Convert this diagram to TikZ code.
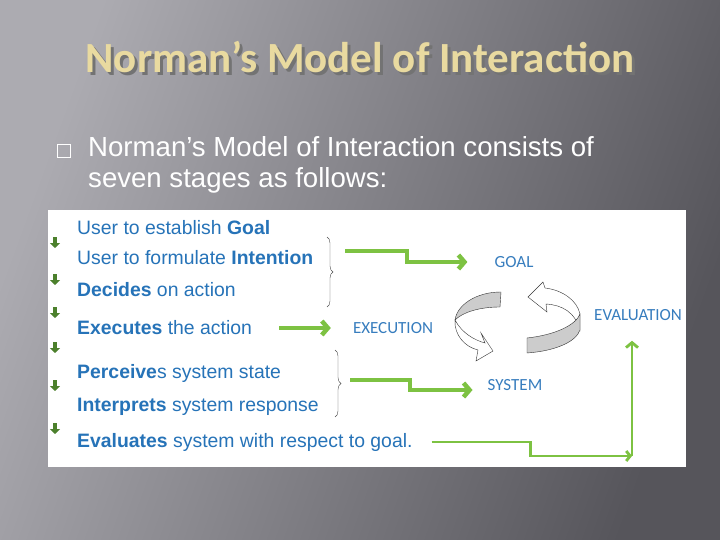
\documentclass[tikz,border=0pt]{standalone}
\usepackage{fontspec}
\setmainfont{Liberation Sans}
\newfontfamily\headfont{Carlito}
\newfontfamily\symbfont{DejaVu Sans}
\usetikzlibrary{arrows.meta,decorations.pathreplacing}

\definecolor{slidelight}{RGB}{172,171,177}
\definecolor{slidedark}{RGB}{86,85,91}
\definecolor{titletan}{RGB}{233,218,160}
\definecolor{stageblue}{RGB}{38,115,184}
\definecolor{phaseblue}{RGB}{55,125,190}
\definecolor{flowgreen}{RGB}{125,194,66}
\definecolor{stepgreen}{RGB}{76,128,44}

\tikzstyle{heading}=[anchor=base,inner sep=0pt,font=\headfont\bfseries\fontsize{43}{48}\selectfont]
\tikzstyle{bodytext}=[anchor=base west,inner sep=0pt,text=white,font=\fontsize{27.6}{32}\selectfont]
\tikzstyle{stage}=[anchor=west,inner sep=0pt,text=stageblue,font=\fontsize{19.4}{22}\selectfont]
\tikzstyle{phase}=[inner sep=0pt,text=phaseblue,font=\headfont\fontsize{17}{20}\selectfont]
\tikzstyle{flow}=[draw=flowgreen,line width=4.5pt,-{Straight Barb[length=6pt,width=14pt]}]
\tikzstyle{thinflow}=[draw=flowgreen,line width=2.8pt]
\tikzstyle{stepdown}=[draw=stepgreen,line width=3.5pt,-{Triangle[length=5pt,width=10pt]}]
\tikzstyle{bracket}=[draw=black!70,thin,decorate,decoration={brace,amplitude=6pt}]
\tikzstyle{bandback}=[draw=black!80,fill=black!20,thin]
\tikzstyle{bandfront}=[draw=black!80,fill=white,thin]

\begin{document}
\begin{tikzpicture}[x=1pt,y=-1pt]
\useasboundingbox (0,0) rectangle (720,540);
\shade[top color=slidelight,bottom color=slidedark,shading angle=70] (0,0) rectangle (720,540);

% title and bullet
\node[heading,text=black!55] (titleshadow) at (363,76) {Norman’s Model of Interaction};
\node[heading,text=titletan] (title) at (360,73) {Norman’s Model of Interaction};
\draw[white,thick] (57,144) rectangle (70,157);
\node[bodytext] (line1) at (88,157) {Norman’s Model of Interaction consists of};
\node[bodytext] (line2) at (88,188) {seven stages as follows:};

% white panel
\fill[white] (48,210) rectangle (686,467);

% seven stages
\node[stage] (goalstage)  at (77,228) {User to establish \textbf{Goal}};
\node[stage] (intention)  at (77,258) {User to formulate \textbf{Intention}};
\node[stage] (decides)    at (77,290) {\textbf{Decides} on action};
\node[stage] (executes)   at (77,328) {\textbf{Executes} the action};
\node[stage] (perceives)  at (77,373) {\textbf{Perceive}s system state};
\node[stage] (interprets) at (77,407) {\textbf{Interprets} system response};
\node[stage] (evaluates)  at (77,442) {\textbf{Evaluates} system with respect to goal.};

\foreach \y in {237,274,307,342,380,423}
  \draw[stepdown] (55,\y) -- ++(0,11);

% phases
\node[phase] (goal)       at (514,262) {GOAL};
\node[phase] (execution)  at (393,328) {EXECUTION};
\node[phase] (evaluation) at (638,315) {EVALUATION};
\node[phase] (system)     at (515,385) {SYSTEM};

% braces and green arrows
\draw[bracket] (327,237) -- (327,307);
\draw[bracket] (335,350) -- (335,417);
\coordinate (brc1) at (345,251);
\coordinate (brc2) at (350,380);
\coordinate (evalcorner) at (632,456);

\draw[flow,shorten >=27pt] (brc1) -- ++(62,0) -- ++(0,11) -- (goal.west);
\draw[flow,shorten <=27pt,shorten >=22pt] (executes.east) -- (execution.west);
\draw[flow,shorten >=15pt] (brc2) -- ++(60,0) -- ++(0,10) -- ([yshift=-5pt]system.west);
\draw[thinflow,-{Straight Barb[length=4pt,width=10pt]}] ([xshift=19pt]evaluates.east) -- ++(99,0) -- ++(0,14) -- (evalcorner);
\draw[thinflow,-{Straight Barb[length=5pt,width=12pt]},shorten >=20pt] (evalcorner) -- (evalcorner |- evaluation.south);

% cycle arrows
\draw[bandfront] (455,320) .. controls (462,333) and (474,340) .. (485,343) -- (481,333) -- (493,351) -- (476,361) -- (478,350) .. controls (465,347) and (454,335) .. (455,320) -- cycle;
\draw[bandback] (501,292) .. controls (476,292) and (457,305) .. (455,320) .. controls (463,312) and (480,307) .. (500,307) -- cycle;
\draw[bandfront] (580,314) .. controls (577,300) and (562,290) .. (545,288) -- (543,282) -- (528,297) -- (547,312) -- (546,304) .. controls (562,305) and (575,312) .. (580,330) -- cycle;
\draw[bandback] (527,338) .. controls (555,335) and (576,325) .. (580,314) -- (580,330) .. controls (576,342) and (555,351) .. (527,353) -- cycle;
\end{tikzpicture}
\end{document}
